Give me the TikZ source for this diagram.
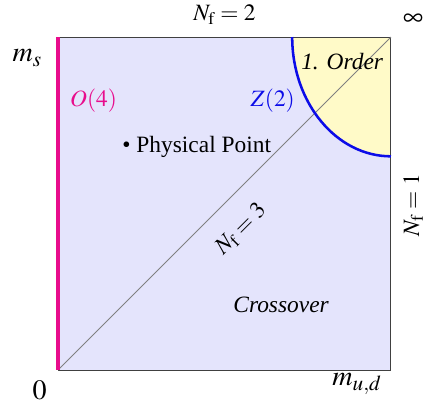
\documentclass[tikz,border=0pt]{standalone}
\usepackage{mathptmx}
\usepackage{fontspec}
\setmainfont{Liberation Serif}
\usetikzlibrary{calc}
\definecolor{crossblue}{RGB}{228,228,252}
\definecolor{ordercream}{RGB}{255,250,200}
\definecolor{ofourpink}{RGB}{232,12,140}
\definecolor{ztwoblue}{RGB}{12,12,232}

\begin{document}
\begin{tikzpicture}[font=\large]

\useasboundingbox (-1.045,-0.649) rectangle (6.685,6.667);

%% ── corners of the mass plane ────────────────────────────────────────────────
\coordinate (origin) at (0,0);
\coordinate (corner) at (6,6);
\coordinate (arcstart) at (4.22,6);

%% ── background regions ───────────────────────────────────────────────────────
\fill[crossblue] (origin) rectangle (corner);
\fill[ordercream] (corner) -- (arcstart)
  arc[start angle=180,end angle=270,x radius=1.78,y radius=2.15] -- cycle;

%% frame
\draw[black!75,line width=0.5pt] (origin) rectangle (corner);

%% N_f = 3 diagonal
\draw[gray,line width=0.4pt] (origin) -- (corner);

%% Z(2) critical line
\draw[ztwoblue,line width=1.3pt] (arcstart)
  arc[start angle=180,end angle=270,x radius=1.78,y radius=2.15];

%% O(4) line on the m_s axis
\draw[ofourpink,line width=1.6pt] (origin) -- (0,6);

%% ── axis labels ──────────────────────────────────────────────────────────────
\node (nftwo) at (3.0,6.4) {$N_{\mathrm{f}} = 2$};
\node[font=\Large] (infty) at (6.4,6.31) {$\infty$};
\node[font=\Large] (msaxis) at (-0.55,5.62) {$m_s$};
\node[font=\Large] (zero) at (-0.33,-0.36) {$0$};
\node[font=\Large] (mudaxis) at (5.39,-0.25) {$m_{u,d}$};

%% ── region labels ────────────────────────────────────────────────────────────
\node[ofourpink] (ofour) at (0.64,4.86) {$O(4)$};
\node[ztwoblue] (ztwo) at (3.87,4.86) {$Z(2)$};
\node (physpt) at (2.5,4.02) {\textbullet\ Physical Point};
\node[font=\large\itshape] (firstorder) at (5.12,5.55) {1. Order};
\node[font=\large\itshape] (crossover) at (4.02,1.17) {Crossover};

\node[rotate=45] (nfthree) at (3.3,2.54) {$N_{\mathrm{f}} = 3$};
\node[rotate=90] (nfone) at (6.4,2.97) {$N_{\mathrm{f}} = 1$};

\end{tikzpicture}
\end{document}
